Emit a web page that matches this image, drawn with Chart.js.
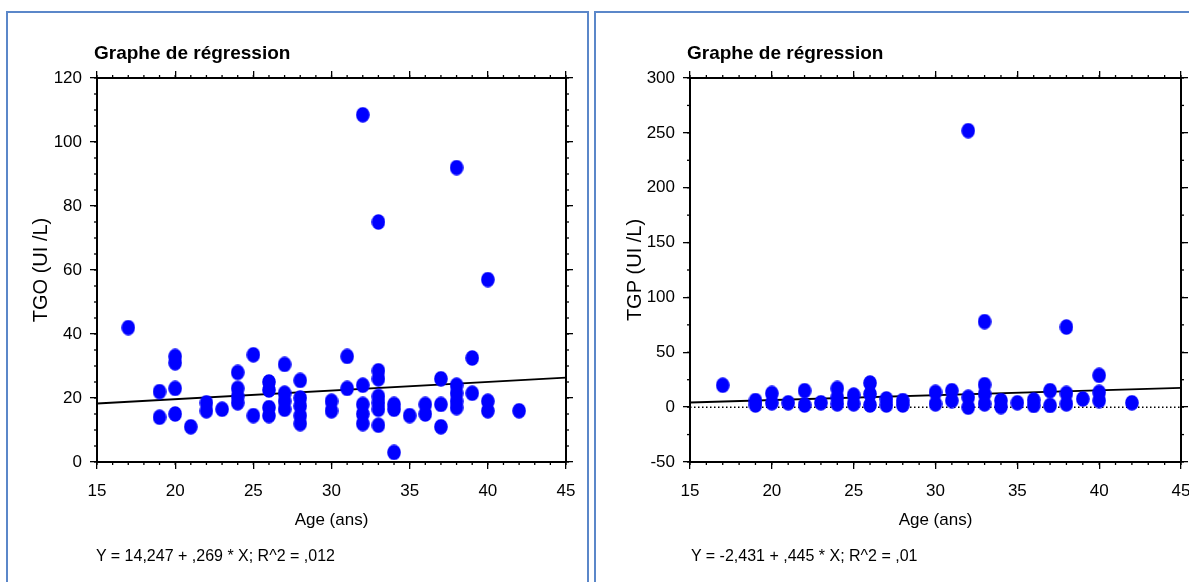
<!DOCTYPE html>
<html><head><meta charset="utf-8">
<script src="https://cdn.jsdelivr.net/npm/chart.js@4.4.0/dist/chart.umd.min.js"></script>
<style>
html,body{margin:0;padding:0;width:1189px;height:582px;overflow:hidden;background:#fff;font-family:"Liberation Sans",Arial,sans-serif;}
.panel{position:absolute;border:2px solid #5b87c9;box-sizing:border-box;}
#p1{left:6px;top:11px;width:583px;height:620px;}
#p2{left:594px;top:11px;width:640px;height:620px;}
canvas{position:absolute;top:0;}
#c1{left:0;}
#c2{left:594px;}
.title{position:absolute;font-weight:bold;font-size:19px;line-height:19px;color:#000;white-space:nowrap;}
.eq{position:absolute;font-size:16px;line-height:16px;color:#000;white-space:nowrap;}
</style></head>
<body>
<div class="panel" id="p1"></div>
<div class="panel" id="p2"></div>
<canvas id="c1" width="594" height="582"></canvas>
<canvas id="c2" width="640" height="582"></canvas>
<div class="title" style="left:94px;top:43px;">Graphe de régression</div>
<div class="title" style="left:687px;top:43px;">Graphe de régression</div>
<div class="eq" style="left:96px;top:548px;">Y = 14,247 + ,269 * X; R^2 = ,012</div>
<div class="eq" style="left:691px;top:548px;">Y = -2,431 + ,445 * X; R^2 = ,01</div>
<script>
// ---- data ----
const tgoAge = [17, 19,19, 20,20,20,20, 21, 22,22, 23, 24,24,24,24, 25,25, 26,26,26,26, 27,27,27,27, 28,28,28,28,28, 30,30, 31,31, 32,32,32,32,32, 33,33,33,33,33,33,33, 34,34,34, 35, 36,36, 37,37,37, 38,38,38,38,38, 39,39, 40,40,40, 42];
const tgoVal = [42, 22,14, 33,31,23,15, 11, 18.5,16, 16.5, 28,23,20.5,18.5, 33.5,14.5, 25,22.5,17,14.5, 30.5,21.5,19,16.5, 25.5,20,17.5,14.5,12, 19,16, 33,23, 108.5,24,18,15,12, 75,28.5,26,20.5,18.5,16.5,11.5, 18,16.5,3, 14.5, 18,15, 26,18,11, 92,24,21.5,19,17, 32.5,21.5, 57,19,16, 16];
const tgpAge = [17, 19,19, 20,20, 21, 22,22, 23, 24,24,24, 25,25, 26,26,26, 27,27, 28,28, 30,30, 31,31, 32,32,32, 33,33,33,33, 34,34, 35, 36,36, 37,37, 38,38,38, 39, 40,40,40, 42];
const tgpVal = [20, 6,2, 12.5,4, 4, 15,2, 4, 17,9,3, 11,3, 22,12,2, 7.5,2, 6,2, 13.5,3, 15,6, 252,9,0, 78,20.5,12,3, 6,0.5, 4, 6.5,1.5, 15,1.5, 73,12.5,3, 7.5, 29,13.5,6, 4];
// regression line end points (from the printed equations)
const regX = [15, 45];
const tgoReg = [18.28, 26.35];
const tgpReg = [4.24, 17.59];
const zeroLine = [0, 0];
const xTitle = 'Age (ans)';
const tgoTitle = 'TGO (UI /L)';
const tgpTitle = 'TGP (UI /L)';

const FONT = '"Liberation Sans", Arial, sans-serif';
const MAJOR = 7, MINOR = 3;

function ellipse(w, h, color) {
  const c = document.createElement('canvas');
  c.width = w; c.height = h;
  const g = c.getContext('2d');
  g.fillStyle = color;
  g.beginPath();
  g.ellipse(w/2, h/2, w/2 - 0.2, h/2 - 0.2, 0, 0, Math.PI*2);
  g.fill();
  return c;
}
const dot = ellipse(14, 16, '#0000ff');

const minorTicks = {
  id: 'minorTicks',
  afterDraw(chart, args, opts) {
    const ctx = chart.ctx;
    ctx.save();
    ctx.strokeStyle = '#000';
    ctx.lineWidth = 1.3;
    for (const id of Object.keys(opts.steps || {})) {
      const s = chart.scales[id];
      const step = opts.steps[id];
      const n = Math.round((s.max - s.min) / step);
      for (let i = 0; i <= n; i++) {
        const v = s.min + i * step;
        const p = s.getPixelForValue(v);
        ctx.beginPath();
        if (s.position === 'bottom') { ctx.moveTo(p, s.top); ctx.lineTo(p, s.top + MINOR); }
        else if (s.position === 'top') { ctx.moveTo(p, s.bottom); ctx.lineTo(p, s.bottom - MINOR); }
        else if (s.position === 'left') { ctx.moveTo(s.right, p); ctx.lineTo(s.right - MINOR, p); }
        else { ctx.moveTo(s.left, p); ctx.lineTo(s.left + MINOR, p); }
        ctx.stroke();
      }
    }
    ctx.restore();
  }
};

function axisCommon() {
  return {
    grid: {drawOnChartArea: false, drawTicks: true, tickLength: MAJOR, color: '#000', lineWidth: 1.3},
    border: {display: true, color: '#000', width: 2}
  };
}

function build(canvasId, ages, vals, reg, yMin, yMax, yStep, yMinor, yTitle, geo, extra) {
  const scatter = ages.map((a, i) => ({x: a, y: vals[i]}));
  const datasets = [
    {type: 'scatter', data: scatter, pointStyle: dot, pointRadius: 8, pointHoverRadius: 8, order: 0},
    {type: 'line', data: regX.map((x, i) => ({x, y: reg[i]})), borderColor: '#000', borderWidth: 1.8, pointRadius: 0, order: 2}
  ];
  if (extra) datasets.push({type: 'line', data: regX.map((x, i) => ({x, y: extra[i]})), borderColor: '#000', borderWidth: 1.5, borderDash: [1.5, 2.5], pointRadius: 0, order: 3});
  return new Chart(document.getElementById(canvasId), {
    data: {datasets},
    options: {
      responsive: false, animation: false, events: [],
      layout: {padding: 0},
      plugins: {legend: {display: false}, tooltip: {enabled: false}, title: {display: false},
                minorTicks: {steps: {x: 1, x2: 1, y: yMinor, y2: yMinor}}},
      scales: {
        x: Object.assign(axisCommon(), {
          type: 'linear', position: 'bottom', min: 15, max: 45,
          ticks: {stepSize: 5, color: '#000', font: {family: FONT, size: 17}, padding: 12, maxRotation: 0, autoSkip: false},
          title: {display: true, text: xTitle, color: '#000', font: {family: FONT, size: 17}, padding: {top: 0, bottom: geo.xTitlePad}},
          afterFit: s => { s.height = geo.bottomH; }
        }),
        x2: Object.assign(axisCommon(), {
          type: 'linear', position: 'top', min: 15, max: 45,
          ticks: {stepSize: 5, display: false},
          afterFit: s => { s.height = geo.topH; }
        }),
        y: Object.assign(axisCommon(), {
          type: 'linear', position: 'left', min: yMin, max: yMax,
          ticks: {stepSize: yStep, color: '#000', font: {family: FONT, size: 17}, padding: 8},
          title: {display: true, text: yTitle, color: '#000', font: {family: FONT, size: 20}, padding: {top: geo.yTitlePad, bottom: 0}},
          afterFit: s => { s.width = geo.leftW; }
        }),
        y2: Object.assign(axisCommon(), {
          type: 'linear', position: 'right', min: yMin, max: yMax,
          ticks: {stepSize: yStep, display: false},
          afterFit: s => { s.width = geo.rightW; }
        })
      }
    },
    plugins: [minorTicks]
  });
}

build('c1', tgoAge, tgoVal, tgoReg, 0, 120, 20, 5, tgoTitle,
  {leftW: 97, rightW: 594 - 566, topH: 78, bottomH: 582 - 462, xTitlePad: 51, yTitlePad: 29});
build('c2', tgpAge, tgpVal, tgpReg, -50, 300, 50, 25, tgpTitle,
  {leftW: 96, rightW: 640 - 587, topH: 78, bottomH: 582 - 462, xTitlePad: 51, yTitlePad: 29}, zeroLine);
</script>
</body></html>
